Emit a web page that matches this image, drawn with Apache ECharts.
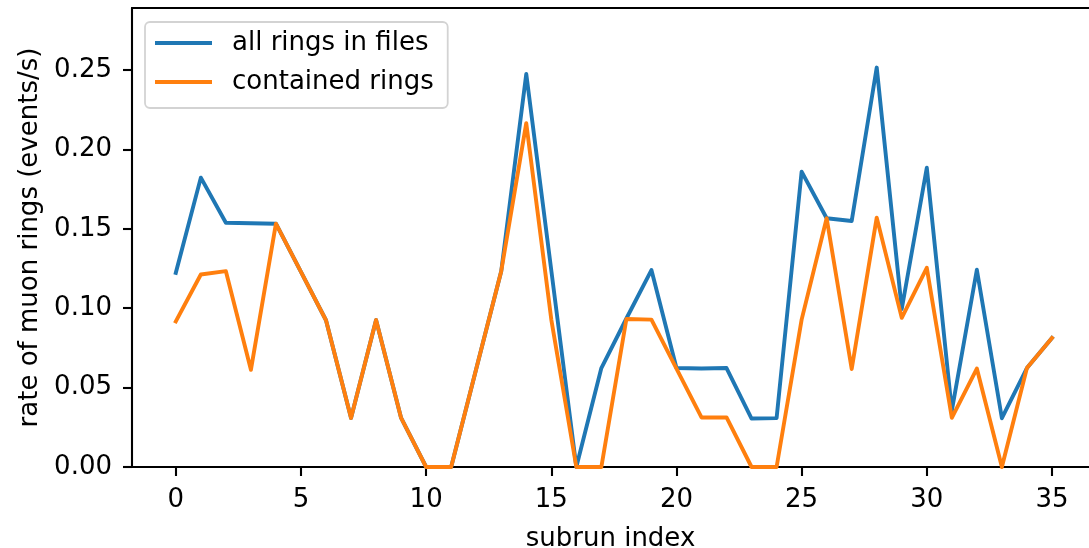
<!DOCTYPE html>
<html>
<head>
<meta charset="utf-8">
<script src="https://cdn.jsdelivr.net/npm/echarts@6/dist/echarts.min.js"></script>
<style>
html,body{margin:0;padding:0;background:#fff;}
#chart{width:1089px;height:548px;}
</style>
</head>
<body>
<div id="chart"></div>
<script>
var subrunIndex = [0,1,2,3,4,5,6,7,8,9,10,11,12,13,14,15,16,17,18,19,20,21,22,23,24,25,26,27,28,29,30,31,32,33,34,35];
var allRings = [0.1223,0.1822,0.1538,0.1535,0.1532,0.1228,0.0924,0.0309,0.0926,0.0309,0,0,0.0617,0.1233,0.2475,0.1238,0,0.0623,0.0935,0.1240,0.0623,0.0620,0.0623,0.0305,0.0308,0.1860,0.1566,0.1549,0.2515,0.0995,0.1884,0.0355,0.1242,0.0307,0.0623,0.0812];
var containedRings = [0.0917,0.1212,0.1233,0.0612,0.1532,0.1228,0.0924,0.0309,0.0926,0.0309,0,0,0.0617,0.1233,0.2165,0.0928,0,0,0.0932,0.0928,0.0620,0.0312,0.0312,0,0,0.0928,0.1566,0.0617,0.1570,0.0939,0.1254,0.0310,0.0620,0,0.0623,0.0812];
var xTicks = [0,5,10,15,20,25,30,35];
var yTicks = [0,0.05,0.10,0.15,0.20,0.25];
var seriesNames = ['all rings in files','contained rings'];

function pairs(ys){ return subrunIndex.map(function(x,i){ return [x, ys[i]]; }); }

var FONT = 'DejaVu Sans';
var FS = 26;
var AXW = 2.1;
var XMIN = -1.75, XMAX = 36.48;
var chart = echarts.init(document.getElementById('chart'), null, {renderer:'canvas'});
chart.setOption({
  animation:false,
  backgroundColor:'#fff',
  grid:{left:132, top:8, right:0, height:459, show:false, containLabel:false, outerBoundsMode:'none'},
  legend:{
    orient:'vertical', left:145, top:22,
    data:seriesNames,
    icon:'rect', itemWidth:57, itemHeight:4, itemGap:9,
    backgroundColor:'#fff', borderColor:'#d3d3d3', borderWidth:1.8, borderRadius:5,
    padding:[6,14,11,10],
    textStyle:{fontFamily:FONT, fontSize:FS, color:'#000', lineHeight:30, padding:[0,0,0,15]}
  },
  xAxis:[{
    type:'value', min:XMIN, max:XMAX,
    name:'subrun index', nameLocation:'middle', nameGap:59,
    nameTextStyle:{fontFamily:FONT, fontSize:FS, color:'#000'},
    splitLine:{show:false},
    axisLine:{show:true, onZero:false, lineStyle:{color:'#000', width:AXW}},
    axisTick:{show:true, length:9, lineStyle:{color:'#000', width:AXW}, customValues:xTicks},
    axisLabel:{fontFamily:FONT, fontSize:FS, color:'#000', margin:20, customValues:xTicks, formatter:function(v){return String(v);}}
  },{
    type:'value', position:'top', min:XMIN, max:XMAX,
    splitLine:{show:false},
    axisLine:{show:true, onZero:false, lineStyle:{color:'#000', width:AXW}},
    axisTick:{show:false}, axisLabel:{show:false}
  }],
  yAxis:{
    type:'value', min:0, max:0.289,
    name:'rate of muon rings (events/s)', nameLocation:'middle', nameGap:89, nameRotate:90,
    nameTextStyle:{fontFamily:FONT, fontSize:FS, color:'#000'},
    splitLine:{show:false},
    axisLine:{show:true, onZero:false, lineStyle:{color:'#000', width:AXW}},
    axisTick:{show:true, length:9, lineStyle:{color:'#000', width:AXW}, customValues:yTicks},
    axisLabel:{fontFamily:FONT, fontSize:FS, color:'#000', margin:20, customValues:yTicks, formatter:function(v){return v.toFixed(2);}}
  },
  series:[
    {name:seriesNames[0], type:'line', xAxisIndex:0, data:pairs(allRings), showSymbol:false, symbol:'none', clip:true,
     color:'#1f77b4', lineStyle:{color:'#1f77b4', width:3.9, join:'round', cap:'square'}},
    {name:seriesNames[1], type:'line', xAxisIndex:0, data:pairs(containedRings), showSymbol:false, symbol:'none', clip:true,
     color:'#ff7f0e', lineStyle:{color:'#ff7f0e', width:3.9, join:'round', cap:'square'}}
  ]
});
</script>
</body>
</html>
